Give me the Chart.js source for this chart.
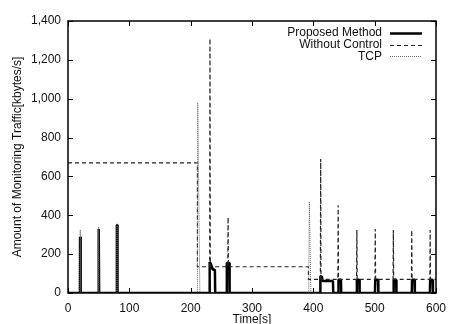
<!DOCTYPE html>
<html>
<head>
<meta charset="utf-8">
<script src="https://cdn.jsdelivr.net/npm/chart.js@4.4.0/dist/chart.umd.min.js"></script>
<style>
  html, body { margin: 0; padding: 0; background: #fff; }
  canvas { display: block; }
</style>
</head>
<body>
<canvas id="traffic-chart" width="454" height="324"></canvas>
<script>
/* Monitoring traffic over time: proposed method vs. no control vs. TCP */

const seriesNames = ['Proposed Method', 'Without Control', 'TCP'];

// [time (s), traffic (kbytes/s)] breakpoints
const proposed = [
  [0, 0], [19.5, 0], [19.7, 290], [20.5, 290], [20.7, 0],
  [49.5, 0], [49.7, 330], [50.5, 330], [50.7, 0],
  [79.5, 0], [79.7, 350], [80.5, 350], [80.7, 0],
  [230.5, 0], [231, 160], [233, 150], [235, 130], [236, 120], [239.5, 120], [240, 0],
  [258.5, 0], [259, 155], [263, 155], [263.5, 0],
  [411, 0], [411.5, 85], [414, 85], [415, 62], [432, 62], [432.5, 0],
  [440.5, 0], [441, 68], [445, 68], [445.5, 0],
  [470.5, 0], [471, 68], [475, 68], [475.5, 0],
  [500.5, 0], [501, 68], [505.5, 68], [506, 0],
  [530.5, 0], [531, 68], [535, 68], [535.5, 0],
  [560.5, 0], [561, 68], [565, 68], [565.5, 0],
  [590, 0], [590.5, 68], [594.5, 68], [595, 0], [600, 0]
];

const withoutControl = [
  [0, 670], [211, 670], [211, 135],
  [231, 135], [231.5, 1310], [232, 135],
  [260.5, 135], [261, 390], [261.5, 135],
  [392, 135], [392, 70],
  [411.5, 70], [412, 690], [412.5, 70],
  [440, 70], [440.5, 452], [441, 70],
  [470.5, 70], [471, 324], [471.5, 70],
  [500.5, 70], [501, 329], [501.5, 70],
  [530, 70], [530.5, 324], [531, 70],
  [560, 70], [560.5, 324], [561, 70],
  [590, 70], [590.5, 324], [591, 70], [600, 70]
];

const tcp = [
  [0, 0], [19.5, 0], [20, 325], [20.5, 0],
  [49.5, 0], [50, 340], [50.5, 0],
  [79.5, 0], [80, 352], [80.5, 0],
  [211, 0], [211.5, 980], [215, 0],
  [392.5, 0], [393.5, 470], [396, 0], [600, 0]
];

const xTickStep = 100, xMax = 600;
const yTickStep = 200, yMax = 1400;

const toPoints = rows => rows.map(r => ({ x: r[0], y: r[1] }));

Chart.defaults.font.family = '"Liberation Sans", Arial, sans-serif';
Chart.defaults.font.size = 12;
Chart.defaults.color = '#111';

// gnuplot look: inward ticks on all four sides, frame, legend at top right
const gnuplotFrame = {
  id: 'gnuplotFrame',
  afterDatasetsDraw(chart) {
    const { ctx, chartArea: a, scales: { x, y } } = chart;
    ctx.save();
    ctx.strokeStyle = '#000';
    ctx.lineWidth = 1;
    ctx.setLineDash([]);
    ctx.beginPath();
    x.ticks.forEach(t => {
      const px = Math.round(x.getPixelForValue(t.value)) + 0.5;
      ctx.moveTo(px, a.bottom); ctx.lineTo(px, a.bottom - 5);
      ctx.moveTo(px, a.top); ctx.lineTo(px, a.top + 5);
    });
    y.ticks.forEach(t => {
      const py = Math.round(y.getPixelForValue(t.value)) + 0.5;
      ctx.moveTo(a.left, py); ctx.lineTo(a.left + 5, py);
      ctx.moveTo(a.right, py); ctx.lineTo(a.right - 5, py);
    });
    ctx.stroke();
    ctx.lineWidth = 1.5;
    ctx.strokeRect(a.left, a.top, a.right - a.left, a.bottom - a.top);

    // legend
    ctx.font = '12px "Liberation Sans", Arial, sans-serif';
    ctx.textAlign = 'right';
    ctx.textBaseline = 'middle';
    chart.data.datasets.forEach((ds, i) => {
      const ly = a.top + 12 + i * 11.7;
      ctx.fillStyle = '#111';
      ctx.fillText(ds.label, a.right - 54, ly);
      ctx.strokeStyle = ds.borderColor;
      ctx.lineWidth = ds.borderWidth;
      ctx.setLineDash(ds.borderDash || []);
      ctx.beginPath();
      ctx.moveTo(a.right - 46, Math.round(ly) + 0.5);
      ctx.lineTo(a.right - 14, Math.round(ly) + 0.5);
      ctx.stroke();
    });
    ctx.restore();
  }
};

new Chart(document.getElementById('traffic-chart'), {
  type: 'line',
  data: {
    datasets: [
      {
        label: seriesNames[0],
        data: toPoints(proposed),
        borderColor: '#000',
        borderWidth: 2.5,
        borderJoinStyle: 'bevel',
        pointRadius: 0,
        order: 2
      },
      {
        label: seriesNames[1],
        data: toPoints(withoutControl),
        borderColor: '#222',
        borderWidth: 1.2,
        borderDash: [4, 3],
        pointRadius: 0,
        order: 1
      },
      {
        label: seriesNames[2],
        data: toPoints(tcp),
        borderColor: '#666',
        borderWidth: 1,
        borderDash: [1, 1],
        pointRadius: 0,
        order: 0
      }
    ]
  },
  options: {
    responsive: false,
    animation: false,
    locale: 'en-US',
    layout: { padding: { top: 21, right: 11, bottom: 0, left: 0 } },
    plugins: { legend: { display: false }, tooltip: { enabled: false } },
    scales: {
      x: {
        type: 'linear', min: 0, max: xMax,
        grid: { display: false, drawTicks: false },
        border: { display: false },
        ticks: { stepSize: xTickStep, padding: 8, maxRotation: 0 },
        title: {
          display: true, text: 'Time[s]',
          font: { size: 12, lineHeight: 1 },
          padding: { top: 0, bottom: -2 }
        },
        afterFit(scale) { scale.height = 31; }
      },
      y: {
        min: 0, max: yMax,
        grid: { display: false, drawTicks: false },
        border: { display: false },
        ticks: { stepSize: yTickStep, padding: 7 },
        title: {
          display: true, text: 'Amount of Monitoring Traffic[kbytes/s]',
          font: { size: 12 },
          padding: { top: 10, bottom: 0 }
        },
        afterFit(scale) { scale.width = 68; }
      }
    }
  },
  plugins: [gnuplotFrame]
});
</script>
</body>
</html>
